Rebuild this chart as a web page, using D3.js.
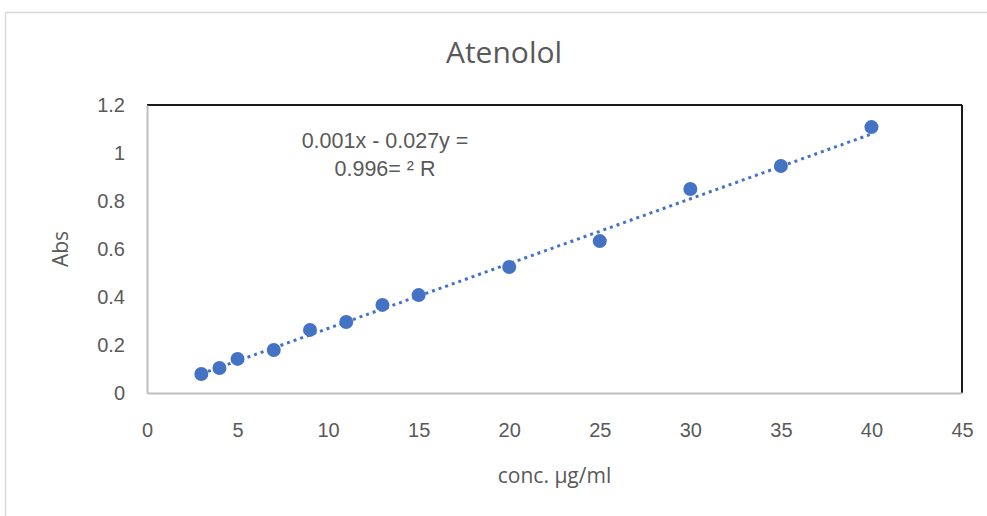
<!DOCTYPE html>
<html>
<head>
<meta charset="utf-8">
<script src="https://cdn.jsdelivr.net/npm/d3@7"></script>
<style>
  body { margin: 0; background: #fff; }
  svg { display: block; }
</style>
</head>
<body>
<div id="chart"></div>
<script>
// data
const concs = [3, 4, 5, 7, 9, 11, 13, 15, 20, 25, 30, 35, 40];
const absValues = [0.079, 0.104, 0.142, 0.179, 0.263, 0.296, 0.367, 0.408, 0.525, 0.633, 0.85, 0.946, 1.108];
const xTicks = [0, 5, 10, 15, 20, 25, 30, 35, 40, 45];
const yTicks = [0, 0.2, 0.4, 0.6, 0.8, 1, 1.2];
const trendSlope = 0.027, trendIntercept = -0.001;
const eqLines = ['0.001x - 0.027y =', '0.996= \u00b2 R'];

const W = 987, H = 516;
const margin = {top: 105, right: 25, bottom: 123, left: 147};
const width = W - margin.left - margin.right;
const height = H - margin.top - margin.bottom;
const blue = '#4472C4';

const svg = d3.select('#chart').append('svg')
    .attr('width', W)
    .attr('height', H);

// outer chart area border (runs off the right/bottom of the frame)
svg.append('rect')
    .attr('x', 5.5).attr('y', 12.5)
    .attr('width', 1100).attr('height', 600)
    .attr('fill', 'none')
    .attr('stroke', '#d9d9d9')
    .attr('stroke-width', 1.5);

var x = d3.scaleLinear().domain([0, 45]).range([0, width]),
    y = d3.scaleLinear().domain([0, 1.2]).range([height, 0]);

var g = svg.append('g')
    .attr('transform', 'translate(' + margin.left + ',' + margin.top + ')');

// Title
svg.append('text')
    .attr('x', 504)
    .attr('y', 63)
    .attr('text-anchor', 'middle')
    .style('font-family', '"Open Sans", sans-serif')
    .style('font-size', '30px')
    .style('fill', '#595959')
    .text('Atenolol');

// plot frame: top/right dark, left/bottom grey
g.append('line').attr('x1', 0).attr('x2', width).attr('y1', 0).attr('y2', 0)
    .attr('stroke', '#1a1a1a').attr('stroke-width', 2);
g.append('line').attr('x1', width).attr('x2', width).attr('y1', 0).attr('y2', height)
    .attr('stroke', '#1a1a1a').attr('stroke-width', 2);

// axes
const xAxis = g.append('g')
    .attr('class', 'axis axis--x')
    .attr('transform', 'translate(0,' + height + ')')
    .call(d3.axisBottom(x).tickValues(xTicks).tickSize(0).tickPadding(30));
const yAxis = g.append('g')
    .attr('class', 'axis axis--y')
    .call(d3.axisLeft(y).tickValues(yTicks).tickSize(0).tickPadding(22).tickFormat(d3.format('')));

[xAxis, yAxis].forEach(function(a) {
  a.select('.domain').attr('stroke', '#bfbfbf').attr('stroke-width', 2);
  a.selectAll('text')
    .style('font-family', '"Liberation Sans", Arial, sans-serif')
    .style('font-size', '20px')
    .style('fill', '#595959');
});

// axis titles
svg.append('text')
    .attr('x', margin.left + width / 2)
    .attr('y', 483)
    .attr('text-anchor', 'middle')
    .style('font-family', '"Open Sans", sans-serif')
    .style('font-size', '21px')
    .style('fill', '#595959')
    .text('conc. \u00b5g/ml');

svg.append('text')
    .attr('transform', 'translate(68,' + (margin.top + height / 2) + ') rotate(-90)')
    .attr('text-anchor', 'middle')
    .style('font-family', '"Open Sans", sans-serif')
    .style('font-size', '21px')
    .style('fill', '#595959')
    .text('Abs');

// trendline
const xExt = d3.extent(concs);
const trend = xExt.map(function(c) { return [c, trendSlope * c + trendIntercept]; });
g.append('path')
    .datum(trend)
    .attr('fill', 'none')
    .attr('stroke', blue)
    .attr('stroke-width', 3)
    .attr('stroke-dasharray', '3,4')
    .attr('d', d3.line().x(function(d) { return x(d[0]); }).y(function(d) { return y(d[1]); }));

// points
g.selectAll('.dot')
    .data(concs.map(function(c, i) { return {c: c, a: absValues[i]}; }))
  .enter().append('circle')
    .attr('class', 'dot')
    .attr('cx', function(d) { return x(d.c); })
    .attr('cy', function(d) { return y(d.a); })
    .attr('r', 7)
    .attr('fill', blue);

// equation label
svg.append('text')
    .attr('x', 385)
    .attr('y', 148)
    .attr('text-anchor', 'middle')
    .style('font-family', '"Liberation Sans", Arial, sans-serif')
    .style('font-size', '21.5px')
    .style('fill', '#595959')
  .selectAll('tspan')
    .data(eqLines)
  .enter().append('tspan')
    .attr('x', 385)
    .attr('dy', function(d, i) { return i === 0 ? 0 : 28; })
    .text(function(d) { return d; });
</script>
</body>
</html>
